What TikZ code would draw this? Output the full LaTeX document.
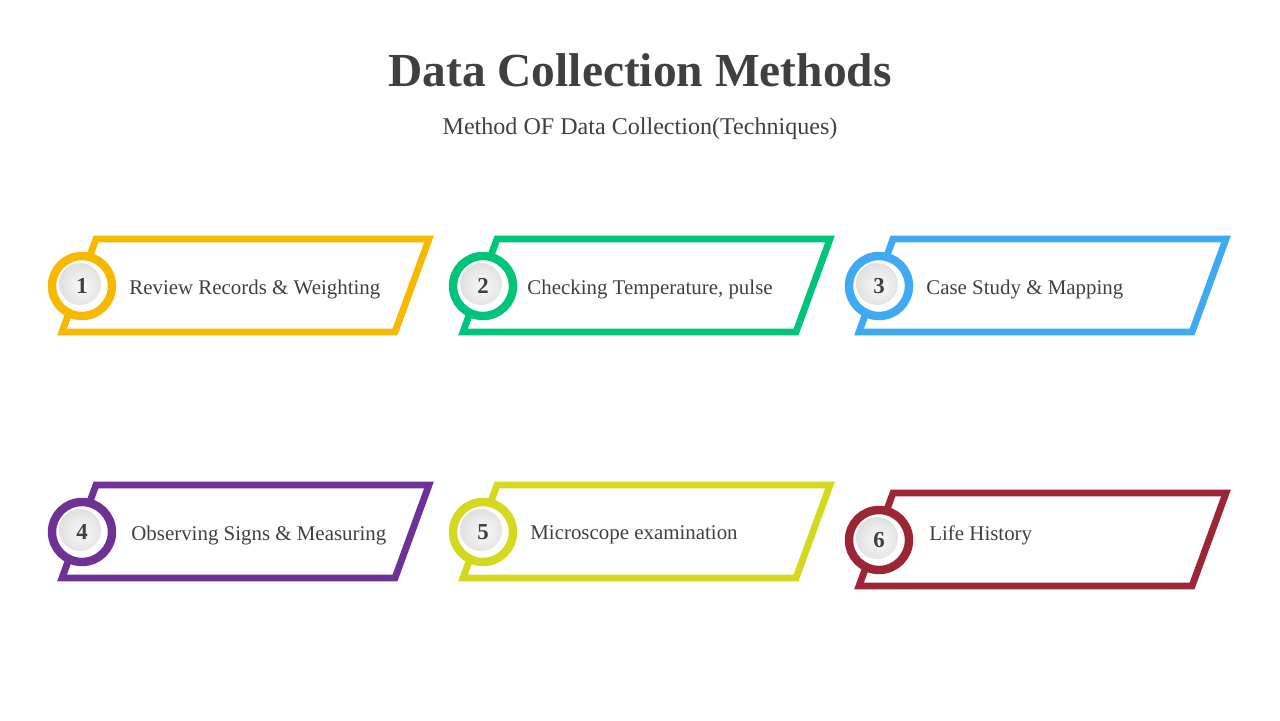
\documentclass[tikz,border=0pt]{standalone}
\usepackage{fontspec}
\setmainfont{Liberation Serif}
\usepackage{tikz}
\usetikzlibrary{positioning,calc}
\definecolor{ink}{HTML}{404040}
\definecolor{gold}{HTML}{F6B900}
\definecolor{mint}{HTML}{00C47A}
\definecolor{sky}{HTML}{3FA9F2}
\definecolor{plum}{HTML}{6E3196}
\definecolor{lime}{HTML}{D4D81E}
\definecolor{wine}{HTML}{9C2636}
\tikzset{
    every picture/.style={line cap=round,line join=round},
    frame/.style={line width=3.9pt,line join=miter,line cap=butt},
    badge/.style={circle,draw=#1,fill=white,line width=4.8pt,
      minimum size=1.2cm,inner sep=0pt,text=ink,
      font=\fontsize{13}{15}\selectfont\bfseries,
      path picture={\shade[inner color=gray!5,outer color=gray!30]
        ([shift={(-2,-2)}]path picture bounding box.center) circle (21);}},
    itemtext/.style={anchor=west,inner sep=0pt,text=ink,
      font=\fontsize{11.9}{14}\selectfont}
}

\begin{document}
\begin{tikzpicture}[x=0.02cm,y=-0.02cm]
  \useasboundingbox (0,0) rectangle (1280,720);
  \node[text=ink,font=\fontsize{27}{32}\selectfont\bfseries] (title) at (640,70) {Data Collection Methods};
  \node[text=ink,font=\fontsize{13.7}{16}\selectfont] (subtitle) at (640,129) {Method OF Data Collection(Techniques)};
  \foreach \c/\cx/\cy/\tx/\ty/\t [count=\i] in {
      gold/82/286/129/289/{Review Records \& Weighting},
      mint/483/286/527/289/{Checking Temperature, pulse},
      sky/879/286/926/289/{Case Study \& Mapping},
      plum/82/532/131/535/{Observing Signs \& Measuring},
      lime/483/532/530/535/{Microscope examination},
      wine/879/540/929/535/{Life History}}{
    \draw[frame,draw=\c] (\cx+14,\cy-47) -- (\cx+347,\cy-47)
      -- (\cx+313,\cy+46) -- (\cx-20,\cy+46) -- cycle;
    \node[badge=\c] (b\i) at (\cx,\cy) {\i};
    \node[itemtext] (t\i) at (\tx,\ty) {\t};}
\end{tikzpicture}
\end{document}
